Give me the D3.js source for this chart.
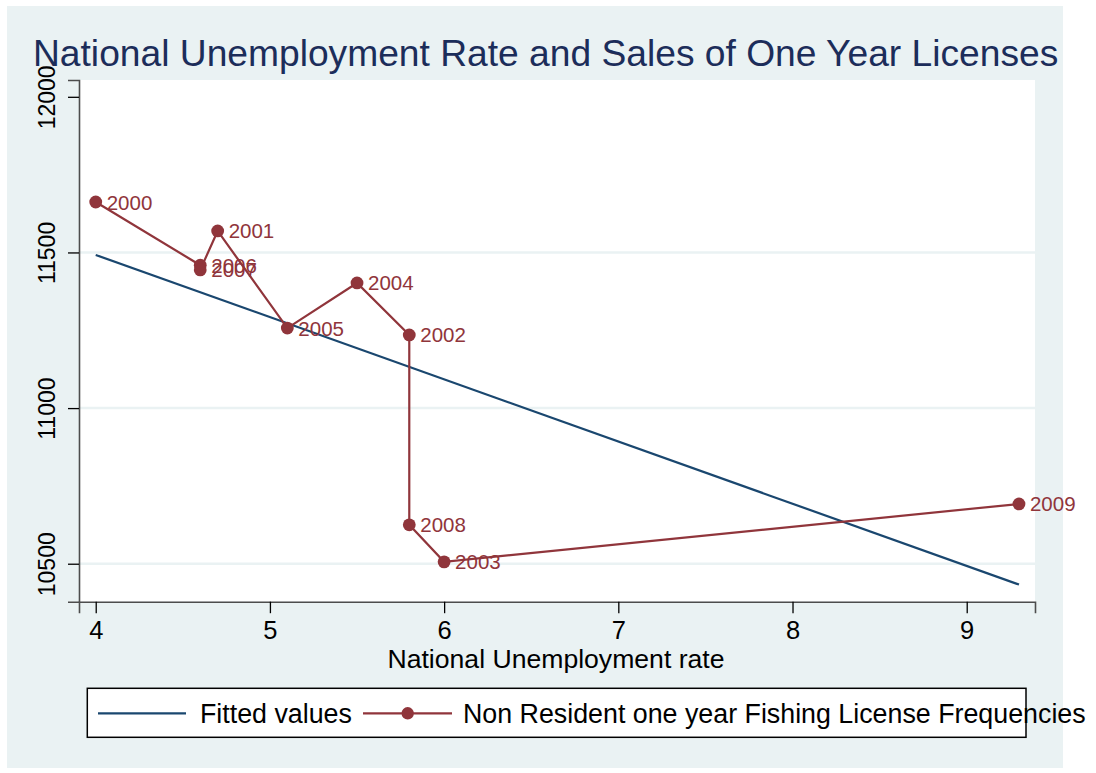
<!DOCTYPE html>
<html>
<head>
<meta charset="utf-8">
<script src="https://cdn.jsdelivr.net/npm/d3@7"></script>
<style>
  html, body { margin: 0; padding: 0; background: #ffffff; }
  svg { display: block; }
  text { font-family: "Liberation Sans", Arial, Helvetica, sans-serif; }
</style>
</head>
<body>
<svg id="chart" width="1096" height="773"></svg>
<script>
// ---- data ----
const years = ["2000","2001","2002","2003","2004","2005","2006","2007","2008","2009"];
const unemployment = [4.0, 4.7, 5.8, 6.0, 5.5, 5.1, 4.6, 4.6, 5.8, 9.3];
const licenses = [11662, 11569, 11235, 10506, 11402, 11257, 11459, 11444, 10625, 10692];
const fittedX = [4.0, 9.3];
const fittedY = [11492, 10433];
const xTicks = [4, 5, 6, 7, 8, 9];
const yTicks = [10500, 11000, 11500, 12000];
const yGrid = [10500, 11000, 11500];
const xDomain = [3.904, 9.392];
const yDomain = [10378, 12054];

const titleText = "National Unemployment Rate and Sales of One Year Licenses";
const xAxisTitle = "National Unemployment rate";
const legendLabels = ["Fitted values", "Non Resident one year Fishing License Frequencies"];

// ---- styles ----
const bgColor = "#EAF2F3";
const navy = "#1A476F";
const maroon = "#90353B";
const titleColor = "#1C2D5A";
const FONT = "'Liberation Sans', Arial, sans-serif";

const svg = d3.select("#chart");

// outer graph region
svg.append("rect").attr("x", 7).attr("y", 6).attr("width", 1056).attr("height", 762).attr("fill", bgColor);

const plot = {left: 79, right: 1035, top: 80, bottom: 601.7};

// plot region
svg.append("rect").attr("x", plot.left).attr("y", plot.top)
  .attr("width", plot.right - plot.left).attr("height", plot.bottom - plot.top)
  .attr("fill", "#ffffff");

const x = d3.scaleLinear().domain(xDomain).range([plot.left, plot.right]);
const y = d3.scaleLinear().domain(yDomain).range([plot.bottom, plot.top]);

// gridlines
svg.append("g").selectAll("line").data(yGrid).join("line")
  .attr("x1", plot.left).attr("x2", plot.right)
  .attr("y1", d => y(d)).attr("y2", d => y(d))
  .attr("stroke", bgColor).attr("stroke-width", 2.5);

// title
svg.append("text").attr("x", 33).attr("y", 66)
  .style("font-size", "37.2px").style("font-family", FONT).attr("fill", titleColor)
  .text(titleText);

// x axis
const xAxis = d3.axisBottom(x).tickValues(xTicks).tickSize(11.5).tickPadding(7.5).tickFormat(d3.format("d"));
const gx = svg.append("g").attr("transform", `translate(0,${plot.bottom})`).call(xAxis);
gx.select(".domain").attr("stroke", "#4d4d4d").attr("stroke-width", 1.6);
gx.selectAll(".tick line").attr("stroke", "#000").attr("stroke-width", 1.3);
gx.selectAll(".tick text").style("font-size", "25.5px").attr("fill", "#000")
  .style("font-family", FONT);

// y axis
const yAxis = d3.axisLeft(y).tickValues(yTicks).tickSize(11).tickPadding(0).tickFormat(d3.format("d"));
const gy = svg.append("g").attr("transform", `translate(${plot.left},0)`).call(yAxis);
gy.select(".domain").attr("stroke", "#4d4d4d").attr("stroke-width", 1.6);
gy.selectAll(".tick line").attr("stroke", "#000").attr("stroke-width", 1.3);
gy.selectAll(".tick text")
  .style("font-size", "23px").attr("fill", "#000")
  .style("font-family", FONT)
  .attr("text-anchor", "middle")
  .attr("dy", null)
  .attr("x", null)
  .attr("y", null)
  .attr("transform", "translate(-24,0) rotate(-90)");

// x axis title
svg.append("text").attr("x", (plot.left + plot.right) / 2 - 1).attr("y", 668)
  .attr("text-anchor", "middle").style("font-size", "26.6px").style("font-family", FONT).attr("fill", "#000")
  .text(xAxisTitle);

// fitted line
const fitData = fittedX.map((d, i) => ({x: d, y: fittedY[i]}));
svg.append("path").datum(fitData)
  .attr("fill", "none").attr("stroke", navy).attr("stroke-width", 2.2)
  .attr("d", d3.line().x(d => x(d.x)).y(d => y(d.y)));

// scatter connected (sorted by x, ties by data order)
const pts = years.map((yr, i) => ({year: yr, x: unemployment[i], y: licenses[i], i}));
const sorted = pts.slice().sort((a, b) => a.x - b.x || a.i - b.i);
svg.append("path").datum(sorted)
  .attr("fill", "none").attr("stroke", maroon).attr("stroke-width", 2.2)
  .attr("d", d3.line().x(d => x(d.x)).y(d => y(d.y)));

svg.append("g").selectAll("circle").data(pts).join("circle")
  .attr("cx", d => x(d.x)).attr("cy", d => y(d.y)).attr("r", 6.4)
  .attr("fill", maroon);

svg.append("g").selectAll("text").data(pts).join("text")
  .attr("x", d => x(d.x) + 11).attr("y", d => y(d.y) + 7.5)
  .style("font-size", "20.5px").style("font-family", FONT).attr("fill", maroon)
  .text(d => d.year);

// legend
const lg = svg.append("g");
lg.append("rect").attr("x", 87.3).attr("y", 688.3).attr("width", 938.7).attr("height", 49)
  .attr("fill", "#fff").attr("stroke", "#000").attr("stroke-width", 1.5);
lg.append("line").attr("x1", 98).attr("x2", 186).attr("y1", 713.3).attr("y2", 713.3)
  .attr("stroke", navy).attr("stroke-width", 2.2);
lg.append("text").attr("x", 200).attr("y", 722.7).style("font-size", "26.8px").style("font-family", FONT).attr("fill", "#000")
  .text(legendLabels[0]);
lg.append("line").attr("x1", 363).attr("x2", 452).attr("y1", 713.3).attr("y2", 713.3)
  .attr("stroke", maroon).attr("stroke-width", 2.2);
lg.append("circle").attr("cx", 407.7).attr("cy", 713.3).attr("r", 6.2).attr("fill", maroon);
lg.append("text").attr("x", 463).attr("y", 722.7).style("font-size", "26.8px").style("font-family", FONT).attr("fill", "#000")
  .text(legendLabels[1]);
</script>
</body>
</html>
